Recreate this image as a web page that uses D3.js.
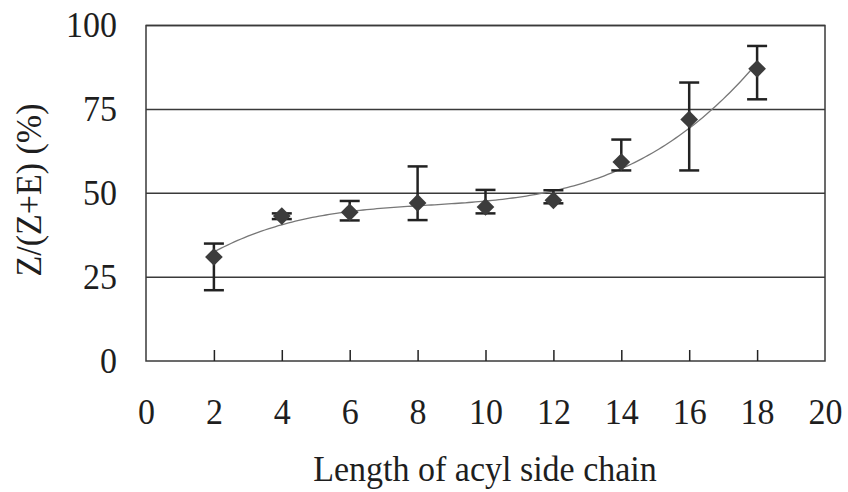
<!DOCTYPE html>
<html>
<head>
<meta charset="utf-8">
<script src="https://cdn.jsdelivr.net/npm/d3@7"></script>
<style>
  body { margin: 0; background: #fff; }
</style>
</head>
<body>
<script>
var chainLength = [2, 4, 6, 8, 10, 12, 14, 16, 18];
var zRatio      = [31, 43.2, 44.3, 47.1, 45.9, 47.9, 59.3, 72, 87.1];
var errHigh     = [35, 44, 47.7, 58, 51, 50.9, 66, 83, 93.9];
var errLow      = [21.1, 42.3, 41.9, 42, 44, 47, 56.8, 56.8, 78];
var xTicks = [0, 2, 4, 6, 8, 10, 12, 14, 16, 18, 20];
var yTicks = [0, 25, 50, 75, 100];

var width = 848, height = 492;
var FONT = "'Liberation Serif', 'Times New Roman', serif";
var svg = d3.select("body").append("svg")
    .attr("width", width)
    .attr("height", height);

var x = d3.scaleLinear().domain([0, 20]).range([146, 825]);
var y = d3.scaleLinear().domain([0, 100]).range([361, 25.5]);

// horizontal grid lines
svg.selectAll("line.grid")
    .data(yTicks.slice(1))
    .enter().append("line")
    .attr("class", "grid")
    .attr("x1", x(0)).attr("x2", x(20))
    .attr("y1", function(d) { return y(d); })
    .attr("y2", function(d) { return y(d); })
    .attr("stroke", "#3a3a3a")
    .attr("stroke-width", 1.5);

// plot frame
svg.append("rect")
    .attr("x", x(0)).attr("y", y(100))
    .attr("width", x(20) - x(0)).attr("height", y(0) - y(100))
    .attr("fill", "none")
    .attr("stroke", "#3a3a3a")
    .attr("stroke-width", 1.5);

// x axis: ticks point inward, labels far below
var xAxis = svg.append("g")
    .attr("transform", "translate(0," + y(0) + ")")
    .call(d3.axisBottom(x).tickValues(xTicks).tickSizeInner(-11).tickSizeOuter(0).tickPadding(0));
xAxis.select(".domain").remove();
xAxis.selectAll(".tick line").attr("stroke", "#222").attr("stroke-width", 1.5)
    .filter(function(d) { return d === 0 || d === 20; }).remove();
xAxis.selectAll("text").attr("dy", null).attr("y", 0)
    .style("font-family", FONT).style("font-size", "34px").attr("fill", "#1e1e1e")
    .attr("transform", "translate(0,63) scale(1,1.08)");

var yAxis = svg.append("g")
    .attr("transform", "translate(" + x(0) + ",0)")
    .call(d3.axisLeft(y).tickValues(yTicks).tickSize(0).tickPadding(0));
yAxis.select(".domain").remove();
yAxis.selectAll("text").attr("dy", null).attr("x", 0)
    .style("font-family", FONT).style("font-size", "34px").attr("fill", "#1e1e1e")
    .attr("transform", "translate(-29,11) scale(1,1.08)");

// axis titles
svg.append("text")
    .attr("transform", "translate(485,481) scale(1,1.08)")
    .attr("text-anchor", "middle")
    .style("font-family", FONT).style("font-size", "34px").attr("fill", "#1e1e1e")
    .text("Length of acyl side chain");

svg.append("text")
    .attr("transform", "translate(41,190) rotate(-90) scale(1,1.08)")
    .attr("text-anchor", "middle")
    .style("font-family", FONT).style("font-size", "34px").attr("fill", "#1e1e1e")
    .text("Z/(Z+E) (%)");

// cubic least-squares trend line through the points
function polyFit(xs, ys, deg) {
  var n = deg + 1, A = [], i, j, k;
  for (i = 0; i < n; i++) {
    A.push([]);
    for (j = 0; j < n; j++) A[i].push(d3.sum(xs, function(v) { return Math.pow(v, i + j); }));
    A[i].push(d3.sum(xs, function(v, t) { return Math.pow(v, i) * ys[t]; }));
  }
  for (i = 0; i < n; i++) {
    for (k = i + 1; k < n; k++) {
      var f = A[k][i] / A[i][i];
      for (j = i; j <= n; j++) A[k][j] -= f * A[i][j];
    }
  }
  var c = new Array(n);
  for (i = n - 1; i >= 0; i--) {
    var s = A[i][n];
    for (j = i + 1; j < n; j++) s -= A[i][j] * c[j];
    c[i] = s / A[i][i];
  }
  return function(v) { return d3.sum(c, function(ci, p) { return ci * Math.pow(v, p); }); };
}
var trend = polyFit(chainLength, zRatio, 3);
var trendX = d3.range(2, 18.01, 0.1);
svg.append("path")
    .datum(trendX)
    .attr("fill", "none")
    .attr("stroke", "#777")
    .attr("stroke-width", 1.3)
    .attr("d", d3.line().x(function(d) { return x(d); }).y(function(d) { return y(trend(d)); }));

// error bars
var pts = chainLength.map(function(c, i) {
  return { c: c, v: zRatio[i], hi: errHigh[i], lo: errLow[i] };
});
var eb = svg.selectAll("g.err").data(pts).enter().append("g")
    .attr("stroke", "#222").attr("stroke-width", 2.5);
eb.append("line")
    .attr("x1", function(d) { return x(d.c); }).attr("x2", function(d) { return x(d.c); })
    .attr("y1", function(d) { return y(d.hi); }).attr("y2", function(d) { return y(d.lo); });
eb.append("line")
    .attr("x1", function(d) { return x(d.c) - 10; }).attr("x2", function(d) { return x(d.c) + 10; })
    .attr("y1", function(d) { return y(d.hi); }).attr("y2", function(d) { return y(d.hi); });
eb.append("line")
    .attr("x1", function(d) { return x(d.c) - 10; }).attr("x2", function(d) { return x(d.c) + 10; })
    .attr("y1", function(d) { return y(d.lo); }).attr("y2", function(d) { return y(d.lo); });

// diamond markers
svg.selectAll("path.pt")
    .data(pts)
    .enter().append("path")
    .attr("class", "pt")
    .attr("d", d3.symbol().type(d3.symbolDiamond2).size(200))
    .attr("transform", function(d) { return "translate(" + x(d.c) + "," + y(d.v) + ")"; })
    .attr("fill", "#3c3c3c");
</script>
</body>
</html>
